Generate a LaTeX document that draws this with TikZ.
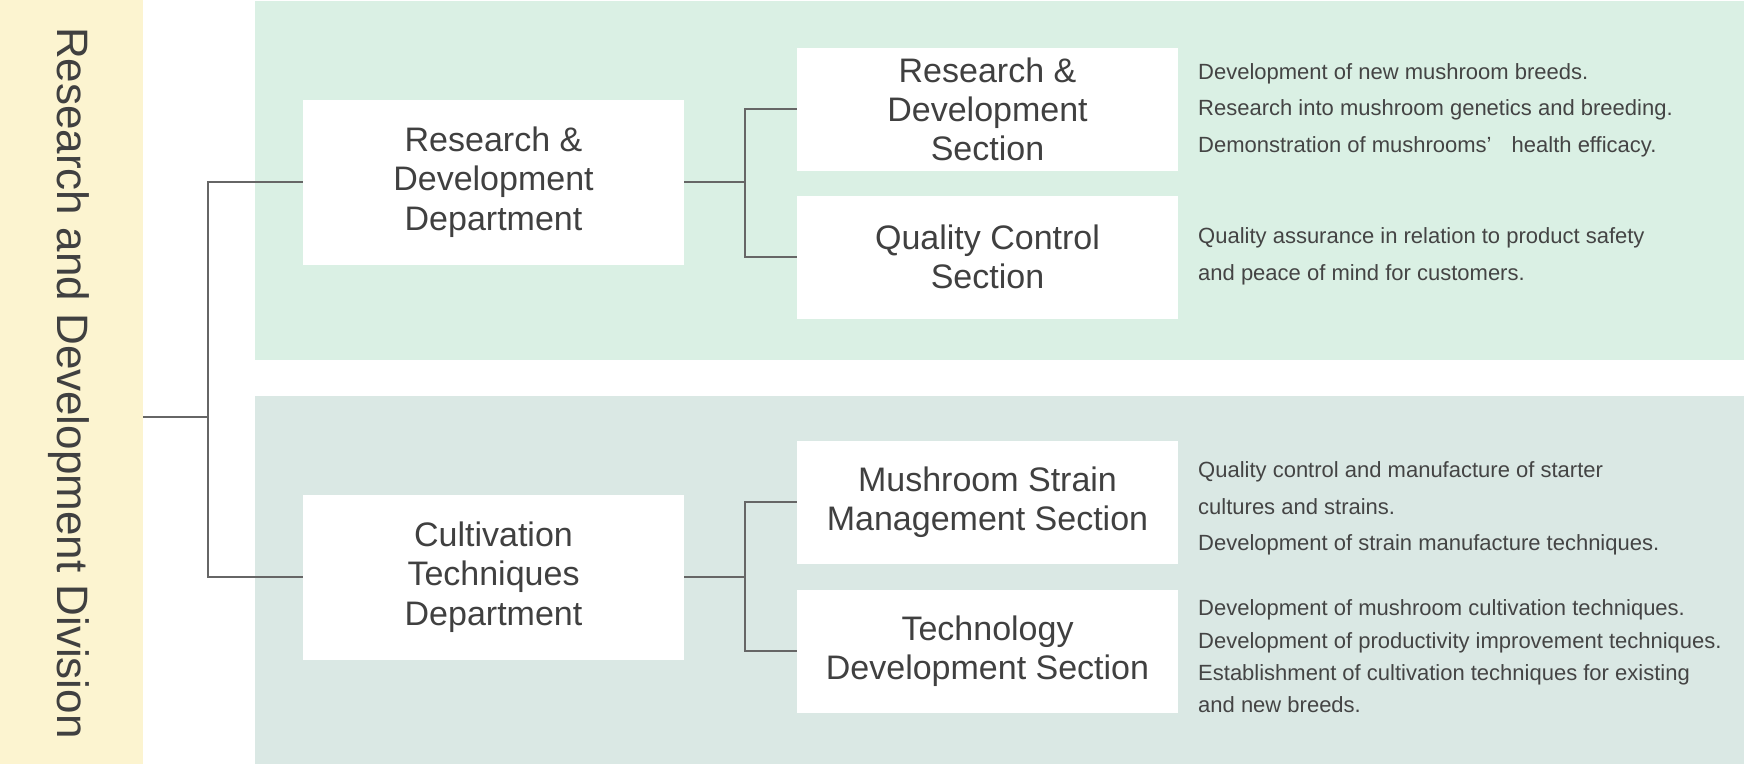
\documentclass[tikz,border=0pt]{standalone}
\usepackage{fontspec}
\setmainfont{Liberation Sans}
\definecolor{bandyellow}{HTML}{FCF4D0}
\definecolor{panelA}{HTML}{DAF0E4}
\definecolor{panelB}{HTML}{DAE8E4}
\definecolor{linegray}{HTML}{666666}
\definecolor{boxtext}{HTML}{404040}
\definecolor{desctext}{HTML}{444444}
\begin{document}
\begin{tikzpicture}[x=1pt,y=-1pt,
  deptbox/.style={fill=white, draw=none, minimum width=381pt, minimum height=165pt, inner sep=0pt,
    align=center, text=boxtext, font=\fontsize{34}{39.5}\selectfont},
  secbox/.style={fill=white, draw=none, minimum width=381pt, minimum height=123pt, inner sep=0pt,
    align=center, text=boxtext, font=\fontsize{34}{39}\selectfont},
  desc/.style={anchor=west, align=left, inner sep=0pt, text=desctext, font=\fontsize{22}{36.5}\selectfont},
  conn/.style={draw=linegray, line width=2pt}]
\useasboundingbox (0,0) rectangle (1744,764);
% backgrounds
\fill[bandyellow] (0,0) rectangle (143,764);
\fill[panelA] (255,1) rectangle (1744,360);
\fill[panelB] (255,396) rectangle (1744,764);
% division title
\node[rotate=-90, inner sep=0pt, text=boxtext, font=\fontsize{44}{50}\selectfont] (divtext) at (69,383) {Research and Development Division};
\coordinate (div) at (143,417);
\coordinate (j1) at (208,0);
\coordinate (j2) at (745,0);
% departments
\node[deptbox] (d1) at (493.5,182) {Research \&\\Development\\Department};
\node[deptbox] (d2) at (493.5,577) {Cultivation\\Techniques\\Department};
% sections
\node[secbox] (s1) at (987.5,109) {Research \&\\Development\\Section};
\node[secbox] (s2) at (987.5,257) {Quality Control\\Section};
\node[secbox] (s3) at (987.5,502) {Mushroom Strain\\Management Section};
\node[secbox] (s4) at (987.5,651) {Technology\\Development Section};
% descriptions
\node[desc] (t1) at (1198,110) {Development of new mushroom breeds.\\Research into mushroom genetics and breeding.\\Demonstration of mushrooms’\hspace{14pt} health efficacy.};
\node[desc] (t2) at (1198,256.5) {Quality assurance in relation to product safety\\and peace of mind for customers.};
\node[desc] (t3) at (1198,508.5) {Quality control and manufacture of starter\\cultures and strains.\\Development of strain manufacture techniques.};
\node[desc, font=\fontsize{22}{32.3}\selectfont] (t4) at (1198,656.5) {Development of mushroom cultivation techniques.\\Development of productivity improvement techniques.\\Establishment of cultivation techniques for existing\\and new breeds.};
% connectors
\draw[conn] (div) -- (div -| j1);
\draw[conn] (d1.west) -- (d1.west -| j1) -- (d2.west -| j1) -- (d2.west);
\draw[conn] (d1.east) -- (d1.east -| j2);
\draw[conn] (s1.west) -- (s1.west -| j2) -- (s2.west -| j2) -- (s2.west);
\draw[conn] (d2.east) -- (d2.east -| j2);
\draw[conn] (s3.west) -- (s3.west -| j2) -- (s4.west -| j2) -- (s4.west);
\end{tikzpicture}
\end{document}
